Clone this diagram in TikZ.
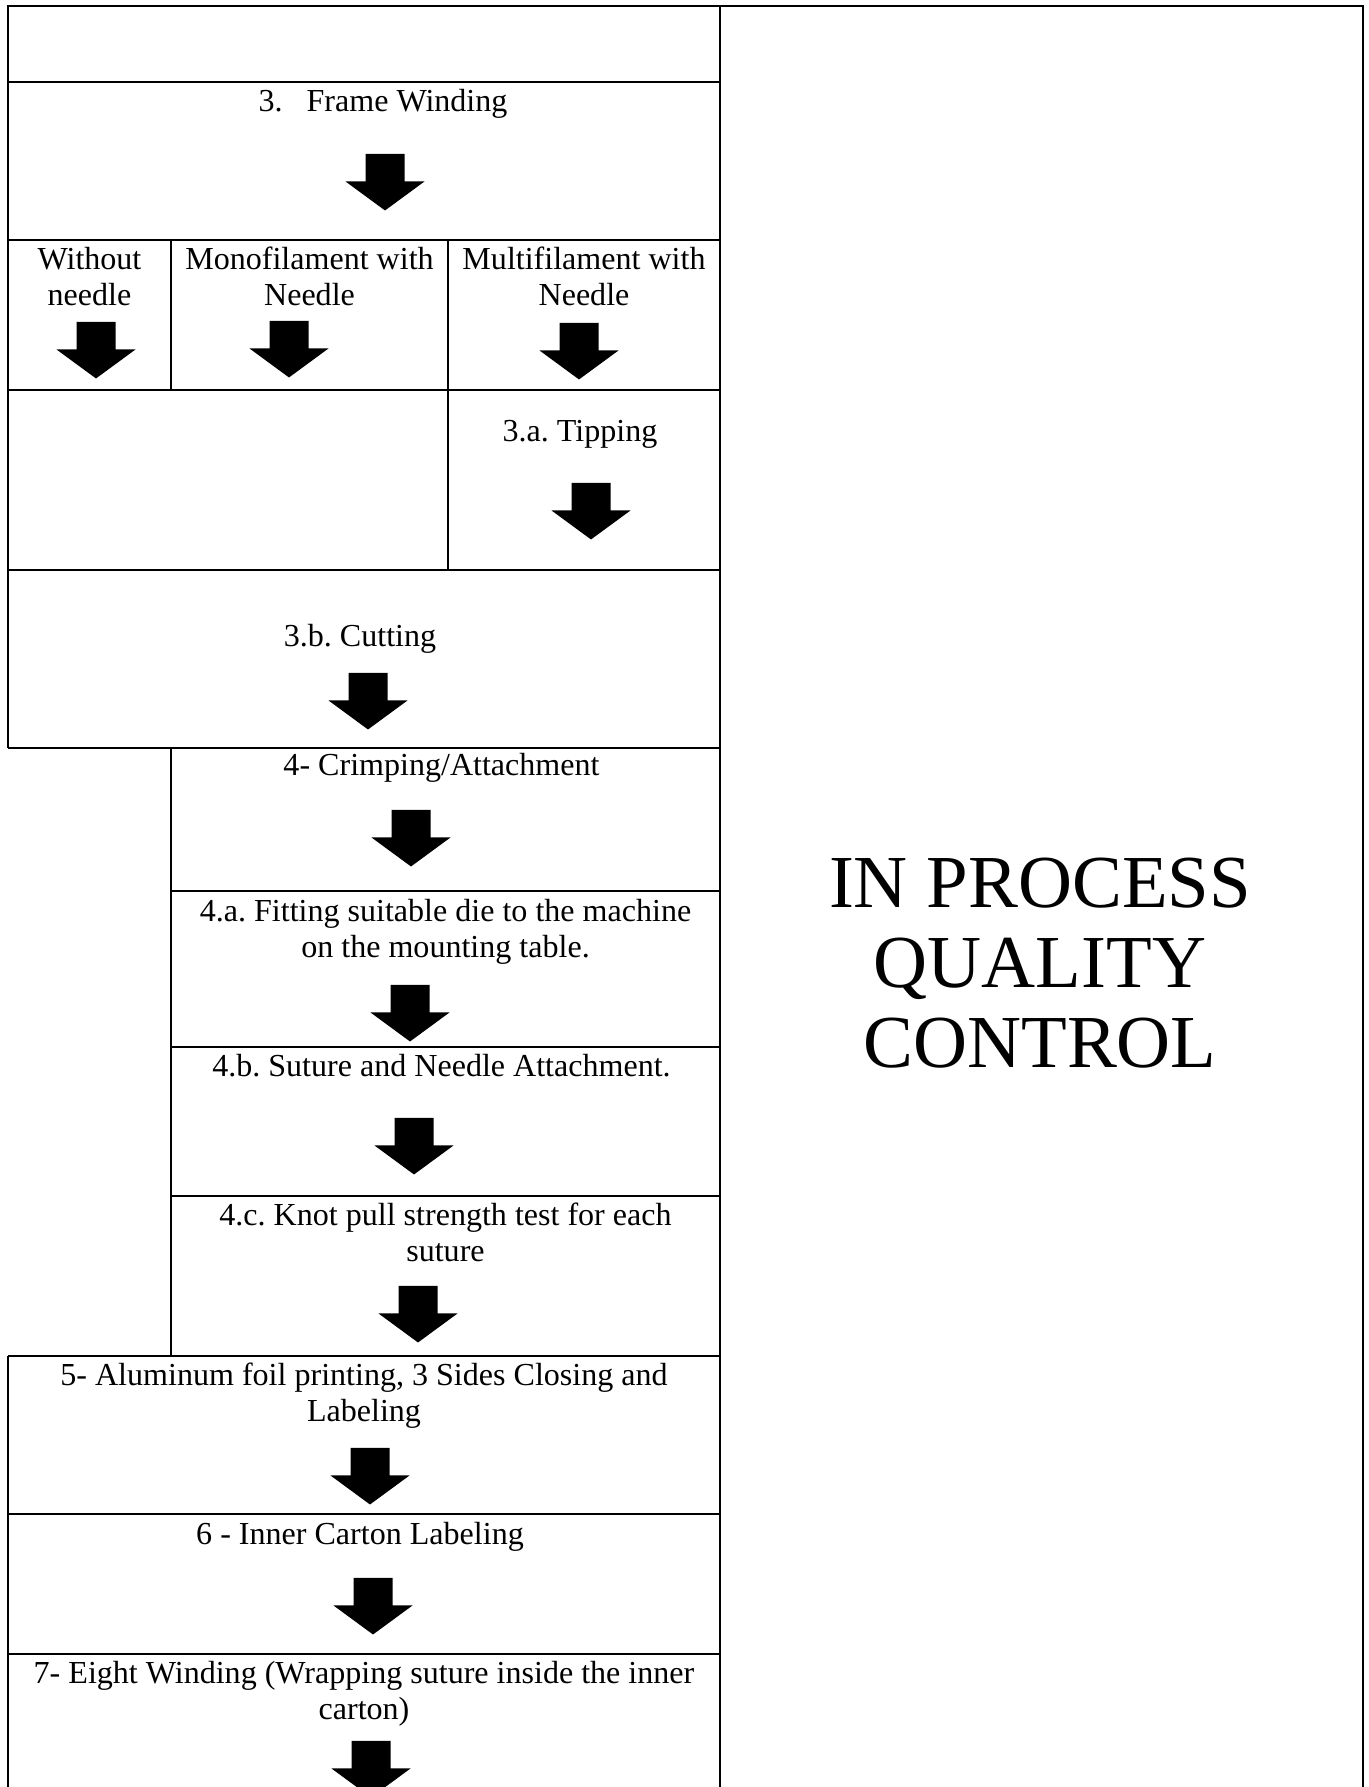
\documentclass[tikz,border=0pt]{standalone}
\usepackage{fontspec}
\setmainfont{Liberation Serif}
\frenchspacing
\tikzset{
  gridline/.style={line width=0.75pt},
  steptext/.style={anchor=base, align=center, inner sep=0pt},
  blockarrow/.pic={
    \fill (-0.256579,0) -- (0.256579,0) -- (0.256579,-0.361842) -- (0.519737,-0.361842)
      -- (0,-0.743421) -- (-0.519737,-0.361842) -- (-0.256579,-0.361842) -- cycle;
  }
}
\begin{document}
\begin{tikzpicture}
            \useasboundingbox (0,0) rectangle (18.000000,23.513158);
            {\fontsize{12}{13.6}\selectfont

            % Drawing outer frame
            \draw [gridline] (0.105263,13.671053) -- (0.105263,23.434211) -- (17.934211,23.434211) -- (17.934211,0.000000);%
            \draw [gridline] (0.105263,0.000000) -- (0.105263,5.671053);%
            \draw [gridline] (2.250000,13.671053) -- (2.250000,5.671053);%

            % Drawing middle divider
            \draw [gridline] (9.473684,23.434211) -- (9.473684,0.000000);%

            % Drawing full rows
            \draw [gridline] (0.105263,22.434211) -- (9.473684,22.434211);%
            \draw [gridline] (0.105263,20.355263) -- (9.473684,20.355263);%
            \draw [gridline] (0.105263,18.381579) -- (9.473684,18.381579);%
            \draw [gridline] (0.105263,16.013158) -- (9.473684,16.013158);%
            \draw [gridline] (0.105263,13.671053) -- (9.473684,13.671053);%
            \draw [gridline] (0.105263,5.671053) -- (9.473684,5.671053);%
            \draw [gridline] (0.105263,3.592105) -- (9.473684,3.592105);%
            \draw [gridline] (0.105263,1.750000) -- (9.473684,1.750000);%

            % Drawing rows of step 4
            \draw [gridline] (2.250000,11.789474) -- (9.473684,11.789474);%
            \draw [gridline] (2.250000,9.736842) -- (9.473684,9.736842);%
            \draw [gridline] (2.250000,7.776316) -- (9.473684,7.776316);%

            % Drawing suture type columns
            \draw [gridline] (2.250000,20.355263) -- (2.250000,18.381579);%
            \draw [gridline] (5.894737,20.355263) -- (5.894737,16.013158);%

            % Writing step labels (base of the last line)
            \draw (5.092105,22.039474) node (frame) [steptext] { 3.\hspace{9pt}Frame Winding };%
            \draw (1.177632,19.486842) node (without) [steptext] { Without\\needle };%
            \draw (4.072368,19.486842) node (mono) [steptext] { Monofilament with\\Needle };%
            \draw (7.684211,19.486842) node (multi) [steptext] { Multifilament with\\Needle };%
            \draw (7.684211,17.697368) node (tipping) [steptext] { 3.a. Tipping };%
            \draw (4.789474,15.000000) node (cutting) [steptext] { 3.b. Cutting };%
            \draw (5.861842,13.302632) node (crimping) [steptext] { 4- Crimping/Attachment };%
            \draw (5.861842,10.907895) node (fitting) [steptext] { 4.a. Fitting suitable die to the machine\\on the mounting table. };%
            \draw (5.861842,9.342105) node (needle) [steptext] { 4.b. Suture and Needle Attachment. };%
            \draw (5.861842,6.907895) node (knot) [steptext] { 4.c. Knot pull strength test for each\\suture };%
            \draw (4.789474,4.802632) node (foil) [steptext] { 5- Aluminum foil printing, 3 Sides Closing and\\Labeling };%
            \draw (4.789474,3.184211) node (carton) [steptext] { 6 - Inner Carton Labeling };%
            \draw (4.789474,0.881579) node (eight) [steptext] { 7- Eight Winding (Wrapping suture inside the inner\\carton) };%

            % Writing quality control label
            \draw (13.684211,9.460526) node (ipqc) [steptext, font=\fontsize{28}{30}\selectfont] { IN PROCESS\\QUALITY\\CONTROL };%

            % Drawing block arrows
            \pic at (5.065789,21.486842) {blockarrow};%
            \pic at (1.263158,19.276316) {blockarrow};%
            \pic at (3.802632,19.289474) {blockarrow};%
            \pic at (7.618421,19.263158) {blockarrow};%
            \pic at (7.776316,17.157895) {blockarrow};%
            \pic at (4.842105,14.657895) {blockarrow};%
            \pic at (5.407895,12.855263) {blockarrow};%
            \pic at (5.394737,10.552632) {blockarrow};%
            \pic at (5.447368,8.802632) {blockarrow};%
            \pic at (5.500000,6.592105) {blockarrow};%
            \pic at (4.868421,4.460526) {blockarrow};%
            \pic at (4.907895,2.750000) {blockarrow};%
            \pic at (4.881579,0.605263) {blockarrow};%
            }
\end{tikzpicture}
\end{document}
